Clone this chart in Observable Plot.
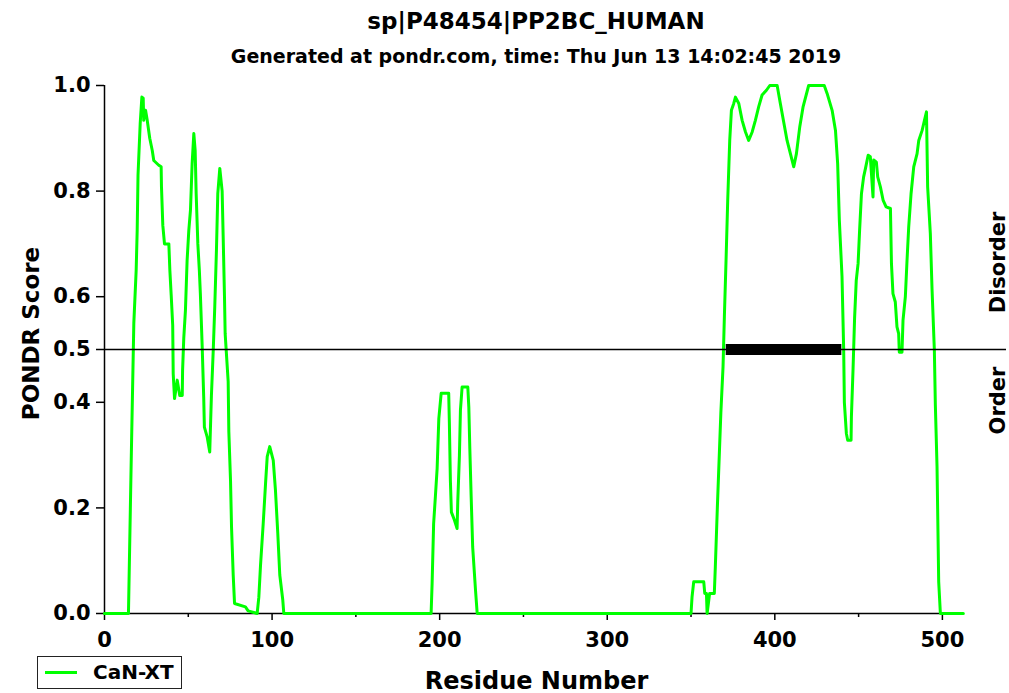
<!DOCTYPE html>
<html><head><meta charset="utf-8">
<script src="https://cdn.jsdelivr.net/npm/d3@7"></script>
<script src="https://cdn.jsdelivr.net/npm/@observablehq/plot@0.6"></script>
<style>
body{margin:0;background:#fff;}
#wrap{position:relative;width:1009px;height:693px;overflow:hidden;font-family:"DejaVu Sans",sans-serif;font-weight:bold;color:#000;}
#title{position:absolute;left:86px;width:900px;top:10px;text-align:center;font-size:23px;line-height:23px;white-space:nowrap;}
#subtitle{position:absolute;left:86px;width:900px;top:47px;text-align:center;font-size:19px;line-height:19px;white-space:nowrap;}
#chart{position:absolute;left:0;top:0;}
#legend{position:absolute;left:37px;top:656px;width:145px;height:33px;border:1.5px solid #222;box-sizing:border-box;}
#legend .sw{position:absolute;left:7px;top:14px;width:32px;height:3px;background:#00ff00;}
#legend .lb{position:absolute;left:55px;top:5px;font-size:20px;line-height:20px;white-space:nowrap;}
</style>
</head><body>
<div id="wrap">
  <div id="chart"></div>
  <div id="title"></div>
  <div id="subtitle"></div>
  <div id="legend"><span class="sw"></span><span class="lb"></span></div>
</div>
<script>
const titleText = "sp|P48454|PP2BC_HUMAN";
const subtitleText = "Generated at pondr.com, time: Thu Jun 13 14:02:45 2019";
const seriesName = "CaN-XT";
const xLabel = "Residue Number";
const yLabel = "PONDR Score";
const sideLabels = ["Disorder", "Order"];
const xTicks = [0, 100, 200, 300, 400, 500];
const xMinorTicks = [50, 150, 250, 350, 450];
const yTicks = [0, 0.2, 0.4, 0.5, 0.6, 0.8, 1.0];
const threshold = [0.5];
const sequenceLength = 512;
const disorderedStart = [371];
const disorderedEnd = [440];

const residue = [0,14.3,16,17.5,18.9,19.5,20,21.3,22.3,23.1,23.4,24.5,25.5,27,28.5,29.4,32.4,33.8,34,34.8,35.8,38.4,39,39.8,40.7,41,41.8,43.4,44.9,46.4,46.6,47.3,48.3,49.3,50.3,51.3,52.3,53.3,54.1,54.7,55.7,56.6,57.2,58.3,59.2,59.6,61.3,62.8,63.8,64.9,65.8,66.8,67.6,68.8,70.2,70.8,71.6,72,73.8,74.2,75.2,75.8,76.8,77.6,84.1,85.7,91.1,92.1,93.1,94.7,96.1,97.1,98.6,100.7,102,103.4,104.6,106.4,107,
194.9,195.5,196.4,197.5,198.5,199.5,200.9,205.4,205.8,206.4,207,208.8,210.4,210.8,211.8,212.4,213.4,216.8,217.4,218,218.8,219.7,221.4,222.4,
350,350.6,351.6,357.6,358.2,359.2,359.6,361.1,363.9,364.5,365.7,367.8,369.1,369.9,370.9,371.9,373.1,374.1,375.5,376.5,378.5,380.5,382.5,384.4,386.5,388.4,390.4,392.4,395,397,401.4,403.3,405.3,407.3,409.3,411.3,412.9,414.9,416.9,420.2,429.5,431.2,434.2,436.2,437.5,438.5,440.1,441.1,441.5,442.7,443.5,445.5,445.7,446.7,447.6,448.6,449.7,450.6,451.7,453,454.1,455.7,457,458.6,459,460.6,461.4,463,464.6,466.4,469,469.6,470.5,471.9,472.9,473.9,474.3,475.9,476.5,477.9,478.9,479.9,481.3,482.9,484.9,485.9,487.9,489.3,490.5,491.2,492.8,493.8,495.2,495.8,496.8,497.8,498.8,512.5];
const score = [0,0,0.3,0.55,0.65,0.725,0.83,0.928,0.978,0.976,0.934,0.953,0.934,0.9,0.877,0.858,0.849,0.846,0.808,0.735,0.7,0.7,0.65,0.603,0.546,0.454,0.407,0.442,0.413,0.413,0.461,0.521,0.574,0.669,0.725,0.764,0.852,0.909,0.877,0.795,0.7,0.65,0.606,0.505,0.41,0.353,0.334,0.306,0.413,0.499,0.581,0.688,0.795,0.843,0.8,0.716,0.6,0.53,0.439,0.344,0.252,0.164,0.073,0.019,0.0125,0.005,0,0.031,0.091,0.17,0.246,0.297,0.316,0.29,0.234,0.152,0.073,0.025,0,
0,0.057,0.17,0.224,0.275,0.369,0.417,0.417,0.36,0.252,0.192,0.177,0.161,0.211,0.3,0.385,0.429,0.429,0.391,0.3125,0.221,0.126,0.044,0,
0,0.031,0.06,0.06,0.038,0.038,0,0.038,0.038,0.088,0.2,0.38,0.467,0.562,0.669,0.783,0.896,0.953,0.966,0.978,0.966,0.934,0.912,0.896,0.912,0.934,0.96,0.982,0.991,1,1,0.966,0.931,0.896,0.871,0.846,0.871,0.922,0.96,1,1,0.985,0.953,0.915,0.852,0.745,0.638,0.499,0.4,0.341,0.328,0.328,0.372,0.464,0.559,0.631,0.663,0.726,0.795,0.827,0.843,0.868,0.865,0.789,0.859,0.855,0.827,0.808,0.783,0.77,0.767,0.663,0.606,0.59,0.543,0.53,0.495,0.495,0.555,0.6,0.669,0.732,0.795,0.846,0.871,0.896,0.915,0.934,0.95,0.808,0.72,0.616,0.499,0.395,0.278,0.06,0,0];

const series = residue.map((r, i) => ({residue: r, score: score[i]}));
const regions = disorderedStart.map((s, i) => ({start: s, end: disorderedEnd[i]}));

document.getElementById("title").textContent = titleText;
document.getElementById("subtitle").textContent = subtitleText;
document.querySelector("#legend .lb").textContent = seriesName;

const chart = Plot.plot({
  width: 1009,
  height: 693,
  marginTop: 85,
  marginBottom: 80,
  marginLeft: 104,
  marginRight: 47,
  x: {domain: [0, sequenceLength]},
  y: {domain: [0, 1]},
  style: "font-family: 'DejaVu Sans', sans-serif; font-weight: bold; font-size: 21px; color: #000; background: transparent; overflow: visible;",
  marks: [
    Plot.ruleY([0], {stroke: "#000", strokeWidth: 1.5}),
    Plot.ruleX([0], {stroke: "#000", strokeWidth: 1.5}),
    Plot.axisX(xTicks, {tickSize: 7, tickPadding: 12, label: null, tickFormat: d => String(d), stroke: "#000", strokeWidth: 1.5}),
    Plot.axisX(xMinorTicks, {tickSize: 4, label: null, tickFormat: () => "", stroke: "#000", strokeWidth: 1.5}),
    Plot.axisY(yTicks, {tickSize: 8, tickPadding: 6, label: null, tickFormat: d => d.toFixed(1), stroke: "#000", strokeWidth: 1.5}),
    Plot.line(series, {x: "residue", y: "score", stroke: "#00ff00", strokeWidth: 3, curve: "linear"}),
    Plot.ruleY(threshold, {stroke: "#000", strokeWidth: 1.3, insetRight: -44}),
    Plot.ruleY(regions, {y: () => threshold[0], x1: "start", x2: "end", stroke: "#000", strokeWidth: 11}),
    Plot.text([yLabel], {frameAnchor: "left", textAnchor: "middle", dx: -73, dy: -16, rotate: -90, fontSize: 23, fill: "#000"}),
    Plot.text([xLabel], {frameAnchor: "bottom", textAnchor: "middle", dx: 3, dy: 75, fontSize: 24, fill: "#000"}),
    Plot.text([sideLabels[0]], {frameAnchor: "right", textAnchor: "middle", dx: 36, dy: -87, rotate: -90, fontSize: 21, fill: "#000"}),
    Plot.text([sideLabels[1]], {frameAnchor: "right", textAnchor: "middle", dx: 36, dy: 51, rotate: -90, fontSize: 21, fill: "#000"})
  ]
});
document.getElementById("chart").appendChild(chart);
</script>
</body></html>
